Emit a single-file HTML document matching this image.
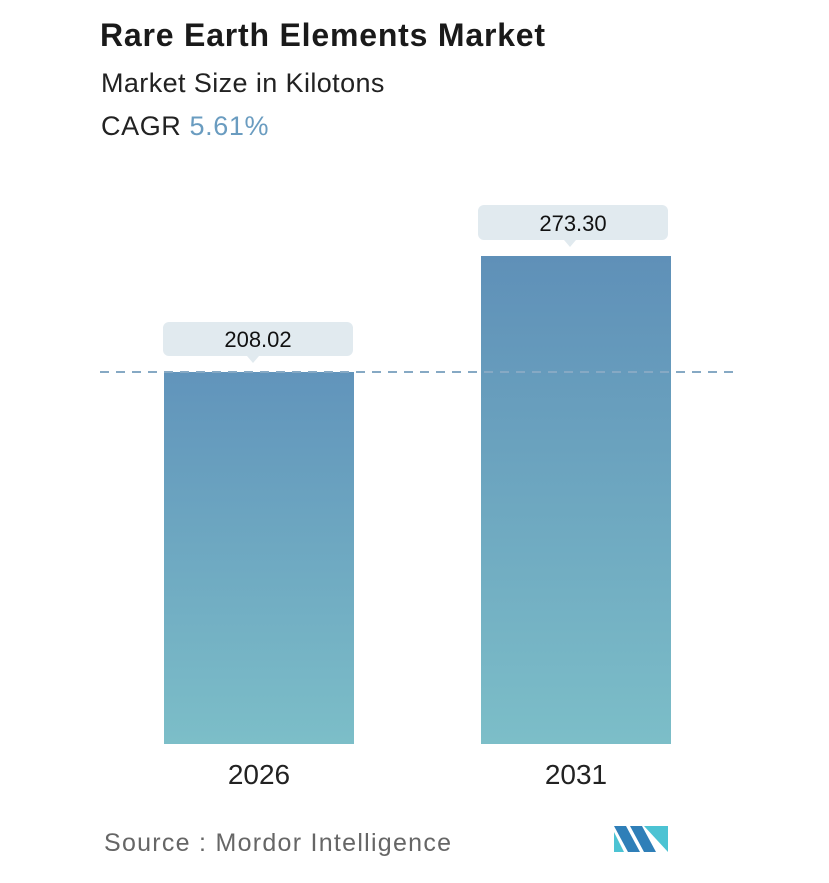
<!DOCTYPE html>
<html><head><style>
body{margin:0;width:829px;height:883px;background:#fff;font-family:"Liberation Sans",sans-serif;position:relative;overflow:hidden}
.a{position:absolute;white-space:nowrap}
</style></head><body>
<div class="a" style="left:100px;top:17px;font-size:32px;font-weight:bold;color:#1a1a1a;letter-spacing:0.8px">Rare Earth Elements Market</div>
<div class="a" style="left:101px;top:68px;font-size:27px;color:#222;letter-spacing:0.4px">Market Size in Kilotons</div>
<div class="a" style="left:101px;top:111px;font-size:27px;color:#222;letter-spacing:0.6px">CAGR <span style="color:#6a9cc0">5.61%</span></div>
<svg class="a" style="left:0;top:0" width="829" height="883">
<defs><linearGradient id="g" x1="0" y1="0" x2="0" y2="1"><stop offset="0" stop-color="#5f90b8"/><stop offset="1" stop-color="#7cbec8"/></linearGradient>
<linearGradient id="g2" x1="0" y1="0" x2="0" y2="1"><stop offset="0" stop-color="#6194bb"/><stop offset="1" stop-color="#7cbec8"/></linearGradient></defs>
<rect x="164" y="372" width="190" height="372" fill="url(#g2)"/>
<rect x="481" y="256" width="190" height="488" fill="url(#g)"/>
<line x1="100" y1="372" x2="740" y2="372" stroke="#86a9c4" stroke-width="2" stroke-dasharray="9,7"/>
<rect x="163" y="322" width="190" height="34" rx="6" fill="#e1eaef"/>
<polygon points="247,356 259,356 253,363" fill="#e1eaef"/>
<rect x="478" y="205" width="190" height="35" rx="6" fill="#e1eaef"/>
<polygon points="564,240 576,240 570,247" fill="#e1eaef"/>
<text x="258" y="347" font-size="22" text-anchor="middle" fill="#111" font-family="Liberation Sans">208.02</text>
<text x="573" y="231" font-size="22" text-anchor="middle" fill="#111" font-family="Liberation Sans">273.30</text>
<text x="259" y="784" font-size="28" text-anchor="middle" fill="#222" font-family="Liberation Sans">2026</text>
<text x="576" y="784" font-size="28" text-anchor="middle" fill="#222" font-family="Liberation Sans">2031</text>
<text x="104" y="851" font-size="25" fill="#666" font-family="Liberation Sans" textLength="347">Source :  Mordor Intelligence</text>
<polygon points="614,826 626,826 640,852 628,852" fill="#2f7fb8"/>
<polygon points="614,832 614,852 624,852" fill="#4cc3d3"/>
<polygon points="630,826 642,826 656,852 644,852" fill="#2f7fb8"/>
<polygon points="644,826 668,826 668,852" fill="#4cc3d3"/>
</svg>
</body></html>
